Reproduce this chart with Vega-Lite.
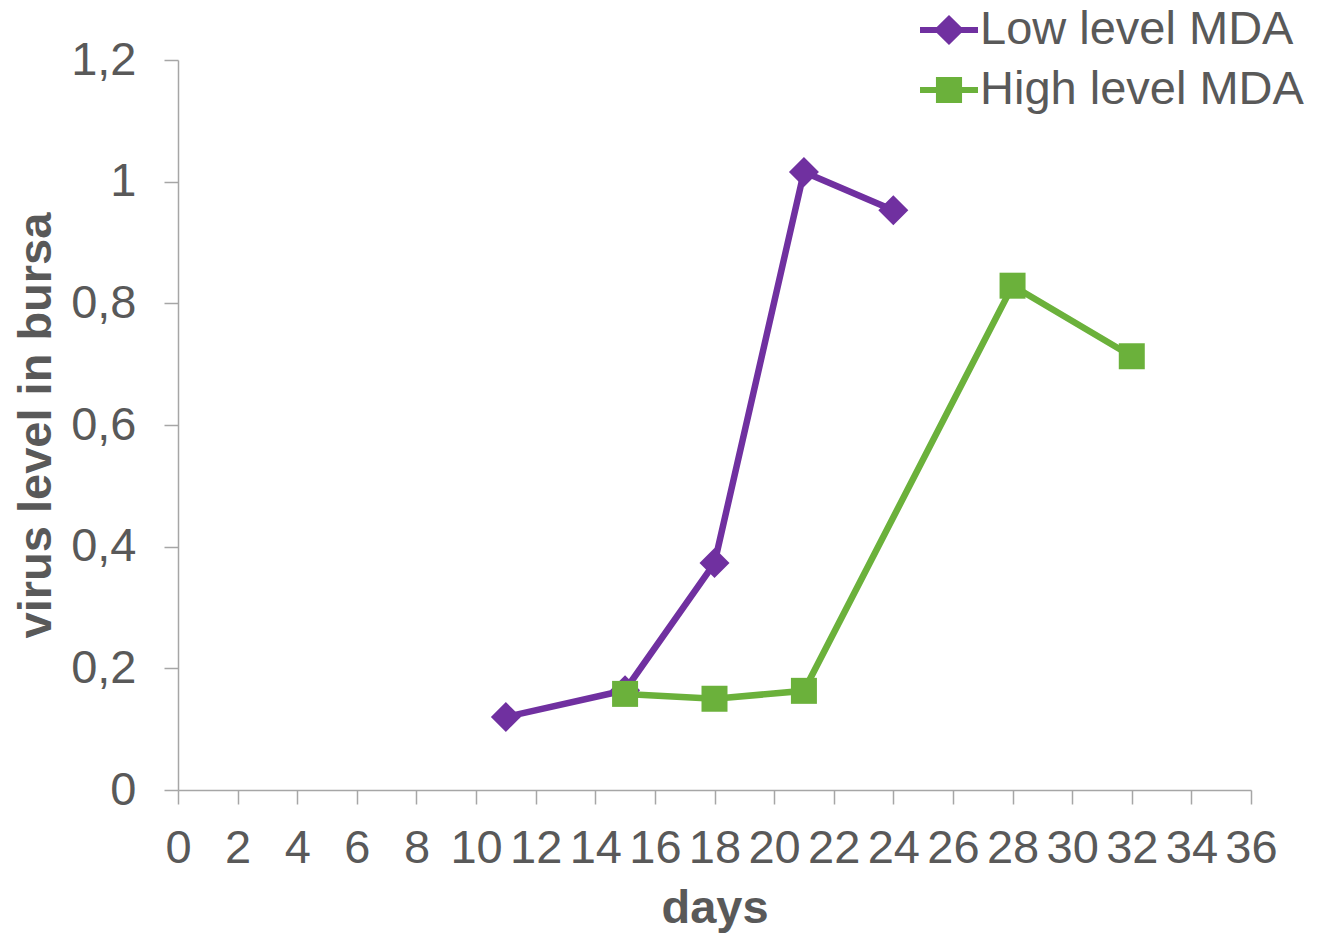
{
  "$schema": "https://vega.github.io/schema/vega-lite/v6.json",
  "autosize": {"type": "none"},
  "width": 1073,
  "height": 730,
  "padding": {"left": 178, "top": 60, "right": 68, "bottom": 143},
  "background": "white",
  "config": {
    "font": "Liberation Sans",
    "view": {"stroke": null},
    "axis": {
      "grid": false,
      "domainColor": "#A6A6A6",
      "domainWidth": 1.5,
      "tickColor": "#A6A6A6",
      "tickWidth": 1.5,
      "tickSize": 14,
      "labelFont": "Liberation Sans",
      "labelFontSize": 47,
      "labelColor": "#595959",
      "titleFont": "Liberation Sans",
      "titleFontSize": 47,
      "titleFontWeight": "bold",
      "titleColor": "#595959"
    }
  },
  "data": {
    "values": [
      {"day": 11, "virus": 0.12, "group": "Low level MDA"},
      {"day": 15, "virus": 0.164, "group": "Low level MDA"},
      {"day": 18, "virus": 0.373, "group": "Low level MDA"},
      {"day": 21, "virus": 1.016, "group": "Low level MDA"},
      {"day": 24, "virus": 0.953, "group": "Low level MDA"},
      {"day": 15, "virus": 0.158, "group": "High level MDA"},
      {"day": 18, "virus": 0.15, "group": "High level MDA"},
      {"day": 21, "virus": 0.163, "group": "High level MDA"},
      {"day": 28, "virus": 0.829, "group": "High level MDA"},
      {"day": 32, "virus": 0.713, "group": "High level MDA"}
    ]
  },
  "encoding": {
    "x": {
      "field": "day",
      "type": "quantitative",
      "scale": {"domain": [0, 36], "nice": false, "zero": false},
      "axis": {
        "title": "days",
        "values": [0, 2, 4, 6, 8, 10, 12, 14, 16, 18, 20, 22, 24, 26, 28, 30, 32, 34, 36],
        "labelFlush": false,
        "labelPadding": 21,
        "titlePadding": 14
      }
    },
    "y": {
      "field": "virus",
      "type": "quantitative",
      "scale": {"domain": [0, 1.2], "nice": false},
      "axis": {
        "title": "virus level in bursa",
        "values": [0, 0.2, 0.4, 0.6, 0.8, 1, 1.2],
        "format": "~g",
        "labelExpr": "replace(datum.label, '.', ',')",
        "labelPadding": 28,
        "titlePadding": 10
      }
    }
  },
  "layer": [
    {
      "mark": {"type": "line", "strokeWidth": 6.5},
      "encoding": {
        "color": {
          "field": "group",
          "type": "nominal",
          "scale": {"domain": ["Low level MDA", "High level MDA"], "range": ["#7030A0", "#6BB13B"]},
          "legend": {
            "title": null,
            "orient": "none",
            "legendX": 742,
            "legendY": -59,
            "padding": 0,
            "rowPadding": 8,
            "symbolSize": 3364,
            "symbolStrokeWidth": 0,
            "labelFont": "Liberation Sans",
            "labelFontSize": 47,
            "labelColor": "#595959",
            "labelOffset": 2,
            "labelLimit": 0,
            "encode": {
              "symbols": {
                "update": {
                  "shape": {"signal": "datum.value === 'Low level MDA' ? 'M-1,-0.1 L-0.42,-0.1 L0,-0.52 L0.42,-0.1 L1,-0.1 L1,0.1 L0.42,0.1 L0,0.52 L-0.42,0.1 L-1,0.1 Z' : 'M-1,-0.1 L-0.45,-0.1 L-0.45,-0.45 L0.45,-0.45 L0.45,-0.1 L1,-0.1 L1,0.1 L0.45,0.1 L0.45,0.45 L-0.45,0.45 L-0.45,0.1 L-1,0.1 Z'"},
                  "size": {"value": 3364},
                  "fill": {"signal": "scale('color', datum.value)"},
                  "fillOpacity": {"value": 1},
                  "strokeWidth": {"value": 0}
                }
              }
            }
          }
        }
      }
    },
    {
      "transform": [{"filter": "datum.group === 'Low level MDA'"}],
      "mark": {"type": "point", "filled": true, "opacity": 1, "shape": "diamond", "size": 900},
      "encoding": {
        "color": {"field": "group", "type": "nominal", "legend": null}
      }
    },
    {
      "transform": [{"filter": "datum.group === 'High level MDA'"}],
      "mark": {"type": "point", "filled": true, "opacity": 1, "shape": "square", "size": 676},
      "encoding": {
        "color": {"field": "group", "type": "nominal", "legend": null}
      }
    }
  ]
}
